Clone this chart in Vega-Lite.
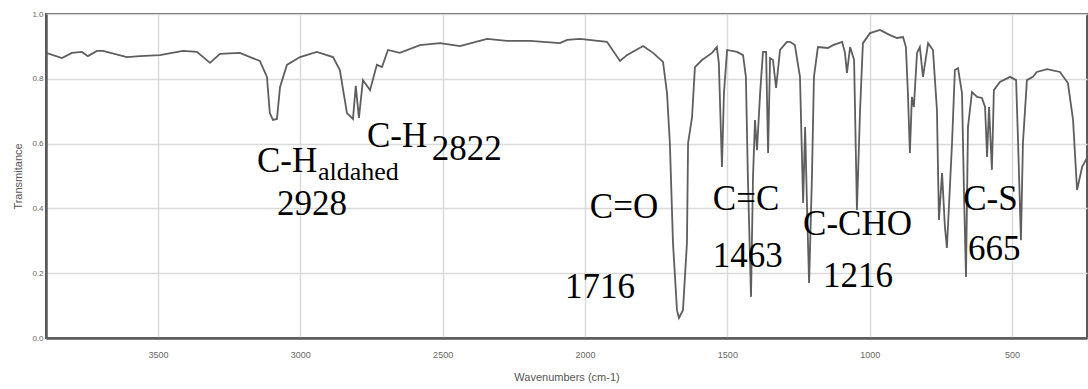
{
  "$schema": "https://vega.github.io/schema/vega-lite/v6.json",
  "width": 1041,
  "height": 324,
  "autosize": {"type": "none"},
  "padding": {"left": 46, "top": 14, "right": 1, "bottom": 51},
  "background": "white",
  "config": {
    "view": {"stroke": "#5a5a5a", "strokeWidth": 2},
    "axis": {
      "labelFont": "Liberation Sans",
      "titleFont": "Liberation Sans",
      "titleFontWeight": "normal",
      "labelColor": "#666",
      "titleColor": "#555",
      "gridColor": "#dadada",
      "gridWidth": 1.5,
      "domainColor": "#5a5a5a",
      "domainWidth": 2.5,
      "ticks": false
    }
  },
  "datasets": {
    "spectrum": [
      {"w": 3893, "t": 0.880}, {"w": 3837, "t": 0.864}, {"w": 3802, "t": 0.880}, {"w": 3767, "t": 0.883},
      {"w": 3746, "t": 0.870}, {"w": 3714, "t": 0.886}, {"w": 3693, "t": 0.886}, {"w": 3609, "t": 0.867},
      {"w": 3563, "t": 0.870}, {"w": 3493, "t": 0.873}, {"w": 3412, "t": 0.886}, {"w": 3363, "t": 0.883},
      {"w": 3317, "t": 0.849}, {"w": 3282, "t": 0.877}, {"w": 3212, "t": 0.880}, {"w": 3142, "t": 0.855},
      {"w": 3117, "t": 0.806}, {"w": 3107, "t": 0.694}, {"w": 3096, "t": 0.673}, {"w": 3082, "t": 0.676},
      {"w": 3071, "t": 0.775}, {"w": 3047, "t": 0.843}, {"w": 3001, "t": 0.867}, {"w": 2942, "t": 0.883},
      {"w": 2885, "t": 0.867}, {"w": 2861, "t": 0.827}, {"w": 2836, "t": 0.694}, {"w": 2815, "t": 0.676},
      {"w": 2805, "t": 0.778}, {"w": 2794, "t": 0.679}, {"w": 2780, "t": 0.796}, {"w": 2755, "t": 0.765},
      {"w": 2731, "t": 0.843}, {"w": 2713, "t": 0.836}, {"w": 2692, "t": 0.889}, {"w": 2650, "t": 0.880},
      {"w": 2580, "t": 0.904}, {"w": 2509, "t": 0.910}, {"w": 2439, "t": 0.901}, {"w": 2344, "t": 0.923},
      {"w": 2274, "t": 0.917}, {"w": 2193, "t": 0.917}, {"w": 2088, "t": 0.910}, {"w": 2063, "t": 0.920},
      {"w": 2018, "t": 0.923}, {"w": 1923, "t": 0.914}, {"w": 1877, "t": 0.855}, {"w": 1853, "t": 0.873},
      {"w": 1796, "t": 0.901}, {"w": 1761, "t": 0.880}, {"w": 1726, "t": 0.852}, {"w": 1712, "t": 0.756},
      {"w": 1702, "t": 0.602}, {"w": 1691, "t": 0.293}, {"w": 1677, "t": 0.086}, {"w": 1670, "t": 0.062},
      {"w": 1656, "t": 0.086}, {"w": 1642, "t": 0.293}, {"w": 1638, "t": 0.602}, {"w": 1624, "t": 0.682},
      {"w": 1614, "t": 0.836}, {"w": 1589, "t": 0.858}, {"w": 1554, "t": 0.880}, {"w": 1537, "t": 0.898},
      {"w": 1530, "t": 0.849}, {"w": 1519, "t": 0.528}, {"w": 1512, "t": 0.756}, {"w": 1501, "t": 0.889},
      {"w": 1466, "t": 0.883}, {"w": 1445, "t": 0.873}, {"w": 1435, "t": 0.806}, {"w": 1428, "t": 0.497},
      {"w": 1417, "t": 0.127}, {"w": 1410, "t": 0.497}, {"w": 1403, "t": 0.673}, {"w": 1396, "t": 0.580},
      {"w": 1385, "t": 0.756}, {"w": 1375, "t": 0.883}, {"w": 1364, "t": 0.883}, {"w": 1357, "t": 0.571},
      {"w": 1350, "t": 0.864}, {"w": 1340, "t": 0.858}, {"w": 1329, "t": 0.772}, {"w": 1315, "t": 0.889},
      {"w": 1291, "t": 0.914}, {"w": 1280, "t": 0.914}, {"w": 1263, "t": 0.904}, {"w": 1245, "t": 0.806},
      {"w": 1234, "t": 0.417}, {"w": 1227, "t": 0.651}, {"w": 1220, "t": 0.395}, {"w": 1213, "t": 0.170},
      {"w": 1203, "t": 0.497}, {"w": 1196, "t": 0.806}, {"w": 1182, "t": 0.898}, {"w": 1147, "t": 0.895},
      {"w": 1129, "t": 0.904}, {"w": 1097, "t": 0.914}, {"w": 1087, "t": 0.880}, {"w": 1080, "t": 0.818},
      {"w": 1069, "t": 0.898}, {"w": 1055, "t": 0.858}, {"w": 1045, "t": 0.395}, {"w": 1034, "t": 0.704},
      {"w": 1024, "t": 0.910}, {"w": 999, "t": 0.941}, {"w": 964, "t": 0.951}, {"w": 929, "t": 0.935},
      {"w": 904, "t": 0.926}, {"w": 883, "t": 0.929}, {"w": 873, "t": 0.898}, {"w": 866, "t": 0.756},
      {"w": 859, "t": 0.571}, {"w": 852, "t": 0.744}, {"w": 845, "t": 0.713}, {"w": 834, "t": 0.880},
      {"w": 824, "t": 0.898}, {"w": 813, "t": 0.806}, {"w": 795, "t": 0.910}, {"w": 778, "t": 0.889},
      {"w": 764, "t": 0.704}, {"w": 757, "t": 0.364}, {"w": 746, "t": 0.509}, {"w": 736, "t": 0.343},
      {"w": 729, "t": 0.278}, {"w": 711, "t": 0.602}, {"w": 701, "t": 0.827}, {"w": 690, "t": 0.833},
      {"w": 676, "t": 0.756}, {"w": 669, "t": 0.448}, {"w": 662, "t": 0.188}, {"w": 655, "t": 0.651},
      {"w": 641, "t": 0.759}, {"w": 623, "t": 0.744}, {"w": 606, "t": 0.741}, {"w": 595, "t": 0.713},
      {"w": 588, "t": 0.559}, {"w": 581, "t": 0.713}, {"w": 571, "t": 0.519}, {"w": 564, "t": 0.765},
      {"w": 543, "t": 0.790}, {"w": 507, "t": 0.806}, {"w": 486, "t": 0.796}, {"w": 479, "t": 0.602},
      {"w": 469, "t": 0.302}, {"w": 462, "t": 0.602}, {"w": 448, "t": 0.796}, {"w": 427, "t": 0.806},
      {"w": 413, "t": 0.821}, {"w": 377, "t": 0.830}, {"w": 332, "t": 0.821}, {"w": 304, "t": 0.787},
      {"w": 286, "t": 0.673}, {"w": 272, "t": 0.457}, {"w": 254, "t": 0.528}, {"w": 237, "t": 0.556}
    ],
    "labels": [
      {"w": 3152, "t": 0.512, "label": "C-H"},
      {"w": 3082, "t": 0.380, "label": "2928"},
      {"w": 2766, "t": 0.590, "label": "C-H"},
      {"w": 2538, "t": 0.549, "label": "2822"},
      {"w": 1983, "t": 0.370, "label": "C=O"},
      {"w": 2070, "t": 0.123, "label": "1716"},
      {"w": 1551, "t": 0.395, "label": "C=C"},
      {"w": 1551, "t": 0.219, "label": "1463"},
      {"w": 1234, "t": 0.318, "label": "C-CHO"},
      {"w": 1164, "t": 0.157, "label": "1216"},
      {"w": 672, "t": 0.395, "label": "C-S"},
      {"w": 655, "t": 0.241, "label": "665"}
    ],
    "sublabels": [
      {"w": 2938, "t": 0.488, "label": "aldahed"}
    ]
  },
  "layer": [
    {
      "data": {"name": "spectrum"},
      "mark": {"type": "line", "color": "#5e5e5e", "strokeWidth": 1.8, "clip": true},
      "encoding": {
        "x": {
          "field": "w", "type": "quantitative",
          "scale": {"domain": [3893, 237], "nice": false, "zero": false},
          "axis": {
            "values": [3500, 3000, 2500, 2000, 1500, 1000, 500],
            "format": "d",
            "title": "Wavenumbers (cm-1)",
            "labelFontSize": 9,
            "labelPadding": 12,
            "titleFontSize": 11,
            "titlePadding": 12
          }
        },
        "y": {
          "field": "t", "type": "quantitative",
          "scale": {"domain": [0, 1], "nice": false},
          "axis": {
            "values": [0, 0.2, 0.4, 0.6, 0.8, 1.0],
            "format": ".1f",
            "title": "Transmitance",
            "labelFontSize": 8,
            "labelPadding": 3,
            "titleFontSize": 11,
            "titlePadding": 8
          }
        }
      }
    },
    {
      "data": {"name": "labels"},
      "mark": {"type": "text", "font": "Liberation Serif", "fontSize": 35, "color": "black", "align": "left", "baseline": "alphabetic"},
      "encoding": {
        "x": {"field": "w", "type": "quantitative"},
        "y": {"field": "t", "type": "quantitative"},
        "text": {"field": "label"}
      }
    },
    {
      "data": {"name": "sublabels"},
      "mark": {"type": "text", "font": "Liberation Serif", "fontSize": 26, "color": "black", "align": "left", "baseline": "alphabetic"},
      "encoding": {
        "x": {"field": "w", "type": "quantitative"},
        "y": {"field": "t", "type": "quantitative"},
        "text": {"field": "label"}
      }
    }
  ]
}
